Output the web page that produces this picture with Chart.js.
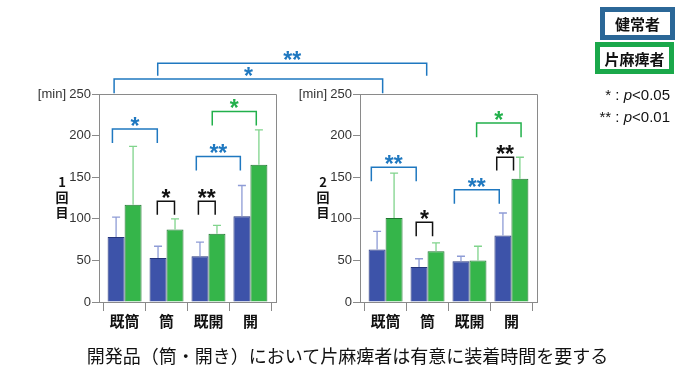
<!DOCTYPE html>
<html>
<head>
<meta charset="utf-8">
<script src="https://cdn.jsdelivr.net/npm/chart.js@4"></script>
<style>
  body { margin: 0; background: #fff; }
  #wrap { position: relative; width: 700px; height: 373px; overflow: hidden; font-family: "Noto Sans CJK JP", sans-serif; }
  #wrap canvas { position: absolute; left: 0; top: 0; }
  .key { position: absolute; box-sizing: border-box; border: 5px solid; font-weight: bold; font-size: 15px;
         display: flex; align-items: center; justify-content: center; color: #111; }
  .pval { position: absolute; right: 30px; font-family: "Liberation Sans", Arial, sans-serif; font-size: 15px; color: #111; }
  #caption { position: absolute; left: 0; width: 695px; top: 343px; text-align: center; font-size: 18px; color: #111; line-height: 24px; }
</style>
</head>
<body>
<div id="wrap">
  <canvas id="day1" width="700" height="373"></canvas>
  <canvas id="day2" width="700" height="373"></canvas>
  <div class="key" style="left:600px;top:7px;width:75px;height:33px;border-color:#2b6797;">健常者</div>
  <div class="key" style="left:595px;top:42px;width:79px;height:32px;border-color:#1aa84a;">片麻痺者</div>
  <div class="pval" style="top:86px;">* : <i>p</i>&lt;0.05</div>
  <div class="pval" style="top:108px;">** : <i>p</i>&lt;0.01</div>
  <div id="caption">開発品（筒・開き）において片麻痺者は有意に装着時間を要する</div>
</div>
<script>
const categories = ["既筒", "筒", "既開", "開"];
const yTicks = [0, 50, 100, 150, 200, 250];

// mean and SD (minutes), 1回目
const day1Healthy = [78, 53, 55, 103];
const day1HealthySd = [24, 14, 17, 37];
const day1Hemi = [117, 87, 82, 165];
const day1HemiSd = [70, 13, 10, 42];

// 2回目
const day2Healthy = [63, 42, 49, 80];
const day2HealthySd = [22, 10, 6, 27];
const day2Hemi = [101, 61, 50, 148];
const day2HemiSd = [54, 10, 17, 26];

const BLUE = "#1f78c0";
const GREEN = "#22b04b";
const BLACK = "#111";

// significance brackets: category position (1 = first category), value of top line / feet
const day1Marks = [
  { from: 0.71, to: 1.78, top: 208, foot: 191, mark: "*", color: BLUE },
  { from: 1.78, to: 2.19, top: 121, foot: 105, mark: "*", color: BLACK },
  { from: 2.76, to: 3.16, top: 121, foot: 105, mark: "**", color: BLACK },
  { from: 2.71, to: 3.76, top: 175, foot: 158, mark: "**", color: BLUE },
  { from: 3.09, to: 4.14, top: 229, foot: 212, mark: "*", color: GREEN },
];
const day2Marks = [
  { from: 0.66, to: 1.73, top: 162, foot: 145, mark: "**", color: BLUE },
  { from: 1.73, to: 2.12, top: 96, foot: 79, mark: "*", color: BLACK },
  { from: 2.64, to: 3.71, top: 135, foot: 118, mark: "**", color: BLUE },
  { from: 3.65, to: 4.05, top: 174, foot: 158, mark: "**", color: BLACK },
  { from: 3.17, to: 4.23, top: 215, foot: 198, mark: "*", color: GREEN },
];
// 1回目 -> 2回目
const crossMarks = [
  { from: 0.75, to: 0.93, top: 268, foot: 251, mark: "*", color: BLUE },
  { from: 1.79, to: 1.98, top: 287, foot: 272, mark: "**", color: BLUE },
];

const AXIS = "#8a8a8a";
const TICK_FONT = { family: "'Liberation Sans Narrow', 'Liberation Sans', Arial", size: 13 };

const drawBracket = (ctx, x1, x2, yTop, yFoot1, yFoot2, mark, color) => {
  ctx.save();
  ctx.strokeStyle = color;
  ctx.lineWidth = 1.5;
  ctx.beginPath();
  ctx.moveTo(x1, yFoot1);
  ctx.lineTo(x1, yTop);
  ctx.lineTo(x2, yTop);
  ctx.lineTo(x2, yFoot2);
  ctx.stroke();
  ctx.fillStyle = color;
  ctx.font = "bold 23px 'Liberation Sans', Arial";
  ctx.textAlign = "center";
  ctx.textBaseline = "alphabetic";
  const m = ctx.measureText(mark);
  const centre = yTop - 7.5;
  ctx.fillText(mark, (x1 + x2) / 2, centre + (m.actualBoundingBoxAscent - m.actualBoundingBoxDescent) / 2);
  ctx.restore();
};

const panelPlugin = {
  id: "panel",
  afterDatasetsDraw(chart) {
    const { ctx, scales } = chart;
    // error bars (upper only)
    chart.data.datasets.forEach((ds, di) => {
      const meta = chart.getDatasetMeta(di);
      ctx.save();
      ctx.strokeStyle = ds.errColor;
      ctx.lineWidth = 1.3;
      meta.data.forEach((bar, i) => {
        const yEnd = scales.y.getPixelForValue(ds.data[i].y + ds.sd[i]);
        ctx.beginPath();
        ctx.moveTo(bar.x, bar.y);
        ctx.lineTo(bar.x, yEnd);
        ctx.moveTo(bar.x - 4, yEnd);
        ctx.lineTo(bar.x + 4, yEnd);
        ctx.stroke();
      });
      ctx.restore();
    });
  },
  afterDraw(chart, args, opts) {
    const { ctx, chartArea, scales } = chart;
    ctx.save();
    ctx.strokeStyle = AXIS;
    ctx.lineWidth = 1;
    ctx.beginPath();
    ctx.moveTo(chartArea.left, chartArea.top + 0.5);
    ctx.lineTo(chartArea.right + 0.5, chartArea.top + 0.5);
    ctx.lineTo(chartArea.right + 0.5, chartArea.bottom);
    ctx.stroke();

    ctx.fillStyle = "#333";
    ctx.font = "13px 'Liberation Sans', Arial";
    ctx.textAlign = "right";
    ctx.textBaseline = "middle";
    ctx.fillText("[min]", chartArea.left - 33, chartArea.top);

    ctx.fillStyle = "#111";
    ctx.font = "bold 13px 'Noto Sans CJK JP'";
    ctx.textAlign = "center";
    const mid = (chartArea.top + chartArea.bottom) / 2;
    opts.title.split("").forEach((ch, i) => {
      ctx.fillText(ch, chartArea.left - 37, mid + (i - 1) * 15 - 1);
    });
    ctx.restore();

    opts.marks.forEach((mk) => {
      const yTop = scales.y.getPixelForValue(mk.top);
      const yFoot = scales.y.getPixelForValue(mk.foot);
      drawBracket(ctx, scales.x.getPixelForValue(mk.from), scales.x.getPixelForValue(mk.to),
        yTop, yFoot, yFoot, mk.mark, mk.color);
    });
  },
};

const makePanel = (id, healthy, healthySd, hemi, hemiSd, title, marks, padLeft, padRight, extra) => {
  return new Chart(document.getElementById(id), {
    type: "bar",
    data: {
      datasets: [
        {
          label: "健常者",
          data: healthy.map((v, i) => ({ x: i + 1, y: v })),
          sd: healthySd,
          backgroundColor: "#3d53a9",
          borderColor: "#26367c",
          errColor: "#8e9cd6",
          borderWidth: 1,
        },
        {
          label: "片麻痺者",
          data: hemi.map((v, i) => ({ x: i + 1, y: v })),
          sd: hemiSd,
          backgroundColor: "#35b54a",
          borderColor: "#1f7630",
          errColor: "#80d48c",
          borderWidth: 1,
        },
      ],
    },
    options: {
      responsive: false,
      animation: false,
      devicePixelRatio: 1,
      layout: { padding: { left: padLeft, right: padRight, top: 94, bottom: 36 } },
      plugins: {
        legend: { display: false },
        tooltip: { enabled: false },
        panel: { title, marks },
      },
      datasets: { bar: { barPercentage: 1, categoryPercentage: 0.81 } },
      scales: {
        x: {
          type: "linear",
          min: 0.39,
          max: 4.61,
          offset: false,
          afterFit: (s) => { s.height = 35; },
          ticks: {
            stepSize: 1,
            includeBounds: false,
            autoSkip: false,
            maxRotation: 0,
            padding: 1,
            color: "#111",
            font: { family: "'Noto Sans CJK JP'", size: 15, weight: "bold" },
            callback: (v) => categories[v - 1] ?? "",
          },
          grid: { drawOnChartArea: false, tickLength: 9, color: AXIS },
          border: { color: AXIS },
        },
        y: {
          min: 0,
          max: 250,
          afterFit: (s) => { s.width = 40; },
          afterBuildTicks: (s) => { s.ticks = yTicks.map((v) => ({ value: v })); },
          ticks: { padding: 1, color: "#333", font: TICK_FONT },
          grid: { drawOnChartArea: false, tickLength: 7, color: AXIS },
          border: { color: AXIS },
        },
      },
    },
    plugins: [panelPlugin].concat(extra || []),
  });
};

const day1Chart = makePanel("day1", day1Healthy, day1HealthySd, day1Hemi, day1HemiSd, "1回目", day1Marks, 59, 424);

const crossPlugin = {
  id: "cross",
  afterDraw(chart) {
    const left = day1Chart.scales;
    const right = chart.scales;
    crossMarks.forEach((mk) => {
      const yTop = left.y.getPixelForValue(mk.top);
      drawBracket(chart.ctx, left.x.getPixelForValue(mk.from), right.x.getPixelForValue(mk.to),
        yTop, left.y.getPixelForValue(mk.foot), right.y.getPixelForValue(mk.foot), mk.mark, mk.color);
    });
  },
};

makePanel("day2", day2Healthy, day2HealthySd, day2Hemi, day2HemiSd, "2回目", day2Marks, 320, 163, [crossPlugin]);
</script>
</body>
</html>
